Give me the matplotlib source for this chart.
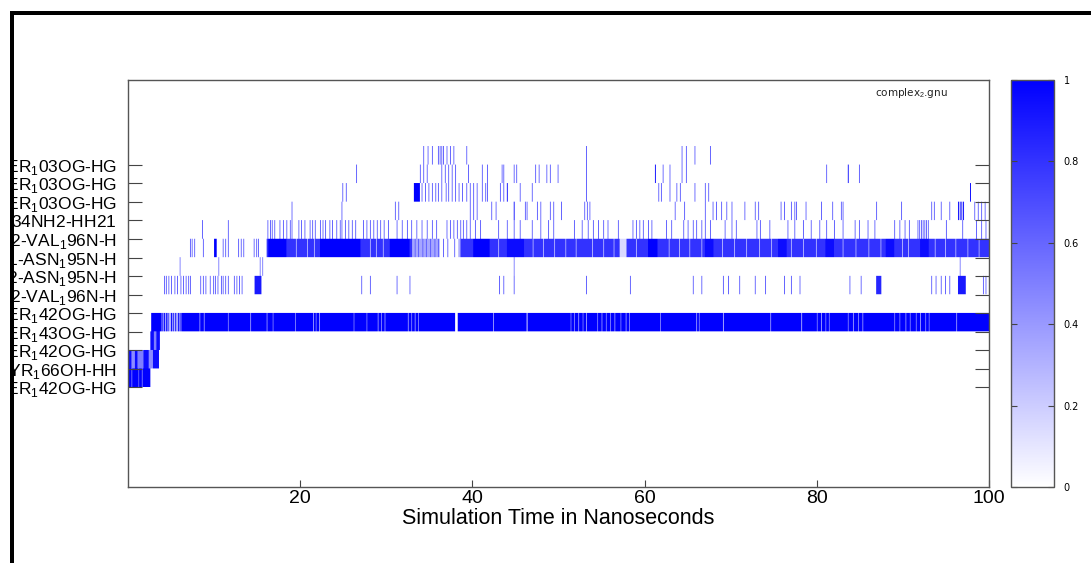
import numpy as np
import matplotlib
matplotlib.use('Agg')
import matplotlib.pyplot as plt
from matplotlib.colors import LinearSegmentedColormap
from matplotlib.patches import Rectangle

# --- hydrogen bond labels (bottom to top) ---
bond_labels = [
    'SER$_1$42OG-HG', 'TYR$_1$66OH-HH', 'SER$_1$42OG-HG', 'SER$_1$43OG-HG',
    'SER$_1$42OG-HG', 'O2-VAL$_1$96N-H', 'O2-ASN$_1$95N-H', 'O1-ASN$_1$95N-H',
    'N2-VAL$_1$96N-H', 'ARG$_1$34NH2-HH21', 'SER$_1$03OG-HG', 'SER$_1$03OG-HG',
    'SER$_1$03OG-HG',
]
x_ticks = [20, 40, 60, 80, 100]
cb_ticks = [0, 0.2, 0.4, 0.6, 0.8, 1]
cb_ticklabels = ['0', '0.2', '0.4', '0.6', '0.8', '1']

t_end = 100.0
dt = 0.1
line_val = 0.65   # typical single-frame occupancy shade
dark_val = 1.0

# --- occupancy per row: blocks (t0, t1, value), lines (t, value) ---
row0_blocks = [(0.0, 2.6, 1.0)]
row0_lines = [(0.4, 0.5), (1.2, 0.6), (1.6, 0.5)]

row1_blocks = [(0.0, 0.45, 0.95), (0.45, 0.8, 0.45), (0.8, 1.15, 0.95), (1.15, 1.75, 0.5),
               (1.75, 2.4, 0.95), (2.4, 2.9, 0.45), (2.9, 3.6, 0.95)]
row1_lines = []

row2_blocks = [(2.6, 3.0, 0.95), (3.0, 3.3, 0.5), (3.3, 3.7, 0.95)]
row2_lines = []

row3_blocks = [(2.7, 3.9, 1.0), (3.9, 6.2, 0.3), (6.2, 100.0, 1.0)]
row3_lines = [(4.0, 1.0), (4.2, 1.0), (4.45, 1.0), (4.65, 1.0), (4.95, 1.0), (5.2, 1.0), (5.5, 1.0),
              (5.8, 1.0), (6.0, 1.0), (8.3, 0.4), (8.8, 0.4), (11.6, 0.5), (14.2, 0.4), (16.1, 0.4),
              (16.8, 0.5), (19.4, 0.5), (21.5, 0.4), (21.8, 0.5), (22.2, 0.4), (26.2, 0.5), (27.7, 0.5),
              (29.0, 0.4), (29.4, 0.5), (29.8, 0.4), (32.5, 0.4), (32.9, 0.5), (33.3, 0.4), (33.7, 0.5),
              (38.0, 0.0), (38.1, 0.0), (38.2, 0.1), (42.4, 0.4), (46.3, 0.0), (51.4, 0.5), (51.8, 0.5),
              (52.3, 0.4), (52.8, 0.5), (53.2, 0.4), (54.5, 0.5), (55.0, 0.4), (55.5, 0.5), (56.0, 0.5),
              (56.5, 0.4), (57.2, 0.5), (57.8, 0.4), (58.2, 0.5), (61.8, 0.5), (66.0, 0.4), (66.3, 0.5),
              (69.1, 0.3), (74.6, 0.4), (78.2, 0.3), (80.0, 0.5), (80.5, 0.4), (81.0, 0.5), (81.4, 0.5),
              (83.6, 0.5), (84.2, 0.4), (84.8, 0.5), (85.3, 0.4), (89.0, 0.5), (89.6, 0.5), (90.3, 0.4),
              (90.8, 0.5), (91.5, 0.5), (92.0, 0.4), (92.6, 0.5), (93.0, 0.5), (96.2, 0.4)]

row4_blocks = []
row4_lines = []

row5_blocks = [(14.7, 15.5, 0.9), (86.9, 87.5, 0.85), (96.4, 97.3, 0.9)]
row5_times = [4.18, 4.45, 4.72, 5.03, 5.42, 5.73, 6.12, 6.39, 6.66, 6.97, 7.24, 8.44, 8.71, 8.98,
              9.49, 9.87, 10.14, 10.45, 10.76, 11.03, 11.34, 11.61, 12.31, 12.58, 12.89, 13.16,
              27.1, 28.1, 31.2, 32.7, 43.1, 43.6, 44.8, 53.2, 58.3, 65.6, 66.6, 69.1, 69.7, 71.0,
              72.8, 74.0, 76.2, 77.0, 78.0, 83.8, 85.1, 93.3, 93.8, 94.4, 94.9, 95.4, 99.3, 99.6]
row5_lines = [(t, line_val) for t in row5_times]

row6_blocks = []
row6_times = [6.0, 10.5, 15.3, 15.6, 44.8, 96.6]
row6_lines = [(t, 0.55) for t in row6_times]

row7_blocks = [(10.0, 10.3, 1.0), (16.1, 100.0, 0.8), (16.3, 18.4, 1.0), (22.3, 27.0, 1.0),
               (30.4, 32.7, 1.0), (33.0, 36.2, 0.35), (36.2, 38.6, 0.0), (40.1, 42.0, 1.0),
               (44.0, 46.0, 0.95), (57.1, 57.9, 0.15), (60.4, 61.5, 1.0), (67.0, 68.0, 0.95),
               (75.5, 76.5, 0.95), (81.0, 82.0, 0.95), (88.0, 89.0, 0.95), (92.0, 93.0, 0.95)]
row7_times = [7.2, 7.4, 7.7, 8.7, 11.0, 11.3, 11.6, 12.8, 13.1, 13.4, 14.6, 14.9, 15.1,
              33.3, 33.7, 34.2, 34.6, 35.1, 35.6, 36.0, 36.6, 37.1, 37.9, 38.4]
row7_gaps = [19.5, 20.8, 21.6, 28.1, 28.8, 29.6, 43.0, 47.0, 48.2, 49.5, 50.8, 52.0, 53.9, 55.2,
             56.4, 59.0, 62.8, 64.0, 65.2, 66.6, 69.0, 70.4, 71.8, 73.3, 74.7, 77.0, 78.4, 79.9,
             83.0, 84.5, 86.0, 87.4, 89.9, 90.6, 93.7, 94.9, 96.1, 97.5, 98.8]
row7_lines = [(t, line_val) for t in row7_times] + [(t, 0.3) for t in row7_gaps]

row8_blocks = []
row8_times = [8.6, 11.6, 16.2, 16.5, 16.7, 17.0, 17.6, 18.0, 18.4, 18.8, 19.0, 19.8, 20.1, 20.5,
              21.1, 21.4, 21.7, 22.3, 22.6, 22.9, 23.4, 23.7, 24.2, 24.6, 24.8, 25.2, 25.6, 26.0,
              26.4, 27.3, 27.7, 28.1, 28.5, 28.9, 29.3, 29.7, 30.2, 31.2, 31.8, 32.4, 32.9, 33.5,
              34.1, 34.7, 35.3, 35.8, 37.0, 37.4, 37.8, 38.2, 38.6, 38.9, 39.3, 39.7, 40.3, 40.9,
              43.0, 44.0, 44.8, 45.5, 46.9, 47.9, 48.8, 49.4, 51.8, 52.7, 53.4, 54.0, 54.6, 55.2,
              55.7, 56.9, 58.65, 59.04, 59.43, 59.81, 60.39, 60.78, 62.52, 63.1, 64.46, 65.04,
              65.62, 66.01, 66.59, 66.97, 67.56, 69.3, 70.07, 70.65, 72.97, 73.36, 74.52, 76.6,
              77.4, 78.4, 79.3, 80.3, 81.1, 82.0, 83.0, 84.4, 84.9, 85.9, 86.7, 89.0, 89.6, 90.2,
              90.7, 91.7, 91.9, 92.1, 92.3, 92.5, 92.7, 92.9, 95.0, 96.9, 98.5, 99.1, 99.6]
row8_lines = [(t, line_val) for t in row8_times]

row9_blocks = []
row9_times = [19.0, 24.8, 31.0, 31.4, 39.7, 40.1, 40.5, 42.2, 42.7, 46.1, 46.3, 47.5, 47.9, 49.0,
              49.4, 50.3, 53.0, 53.3, 53.6, 63.5, 64.65, 66.97, 67.9, 68.3, 68.9, 69.5, 70.1, 71.6,
              72.8, 73.2, 75.8, 76.2, 77.0, 77.4, 77.6, 78.7, 80.5, 81.8, 82.8, 83.0, 86.9, 89.8,
              93.3, 93.6, 94.4, 95.4, 98.3, 98.7, 99.1, 99.5]
row9_dark = [44.8, 96.4, 96.6, 96.8, 97.0]
row9_lines = [(t, line_val) for t in row9_times] + [(t, dark_val) for t in row9_dark]

row10_blocks = [(33.2, 33.9, 1.0)]
row10_times = [24.9, 25.3, 34.1, 34.5, 34.9, 35.3, 35.7, 36.0, 36.4, 36.9, 37.2, 37.6, 38.0, 38.4,
               38.8, 39.3, 39.7, 40.1, 40.5, 41.1, 41.5, 41.7, 43.2, 43.6, 45.5, 46.9, 53.2, 61.6,
               61.9, 62.9, 63.7, 64.1, 65.8, 67.0, 67.4]
row10_dark = [44.0, 97.8]
row10_lines = [(t, line_val) for t in row10_times] + [(t, dark_val) for t in row10_dark]

row11_blocks = []
row11_times = [26.5, 33.9, 34.3, 34.7, 36.4, 36.8, 37.2, 37.6, 38.0, 39.5, 41.1, 41.7, 43.4, 43.6,
               44.8, 45.1, 47.3, 47.7, 48.6, 49.0, 49.9, 53.2, 62.1, 62.9, 64.3, 64.8, 81.1, 84.9]
row11_dark = [61.2, 83.6]
row11_lines = [(t, line_val) for t in row11_times] + [(t, dark_val) for t in row11_dark]

row12_blocks = []
row12_times = [34.3, 34.8, 35.3, 36.0, 36.2, 36.4, 36.6, 37.0, 37.4, 37.8, 39.3, 53.2, 64.3, 64.8,
               65.8, 67.6]
row12_lines = [(t, line_val) for t in row12_times]

all_blocks = [row0_blocks, row1_blocks, row2_blocks, row3_blocks, row4_blocks, row5_blocks,
              row6_blocks, row7_blocks, row8_blocks, row9_blocks, row10_blocks, row11_blocks,
              row12_blocks]
all_lines = [row0_lines, row1_lines, row2_lines, row3_lines, row4_lines, row5_lines, row6_lines,
             row7_lines, row8_lines, row9_lines, row10_lines, row11_lines, row12_lines]

# --- build occupancy matrix ---
n_bins = int(round(t_end / dt))
occ = np.zeros((len(bond_labels), n_bins))
for r in range(len(bond_labels)):
    for t0, t1, v in all_blocks[r]:
        occ[r, int(round(t0 / dt)):int(round(t1 / dt))] = v
    for t, v in all_lines[r]:
        occ[r, min(int(round(t / dt)), n_bins - 1)] = v

# repeat rows so the image is not smeared vertically when resampled
occ_img = np.repeat(occ, 20, axis=0)

cmap = LinearSegmentedColormap.from_list('wb', ['#ffffff', '#0000ff'])

plt.rcParams['mathtext.fontset'] = 'custom'
plt.rcParams['mathtext.rm'] = 'Liberation Sans'

fig = plt.figure(figsize=(10.91, 5.63), dpi=100)
W, H = 1091.0, 563.0
ax = fig.add_axes([128 / W, 1 - 487 / H, (989 - 128) / W, (487 - 80) / H])
im = ax.imshow(occ_img, cmap=cmap, vmin=0, vmax=1, aspect='auto', origin='lower',
               extent=(0, t_end, 0, len(bond_labels)), interpolation='antialiased')
ax.set_xlim(0, 100)
ax.set_ylim(-5.38, 16.58)
ax.set_yticks(range(len(bond_labels)))
ax.set_yticklabels(bond_labels, fontfamily='Liberation Sans', fontsize=12.5)
ax.set_xticks(x_ticks)
ax.set_xticklabels([str(v) for v in x_ticks], fontfamily='Liberation Sans', fontsize=14)
ax.tick_params(axis='y', direction='in', length=10, width=0.8, color='#444444', pad=8,
               left=True, right=True)
ax.tick_params(axis='x', direction='in', length=5, width=0.8, color='#444444', pad=2)
ax.set_xlabel('Simulation Time in Nanoseconds', fontfamily='Liberation Sans',
              fontsize=15.5, labelpad=1)
for s in ax.spines.values():
    s.set_color('#555555')
    s.set_linewidth(1.0)
ax.text(0.91, 0.968, 'complex$_2$.gnu', transform=ax.transAxes, ha='center', va='center',
        fontsize=7.5, color='#222222')

cax = fig.add_axes([1011 / W, 1 - 487 / H, 43 / W, (487 - 80) / H])
cb = fig.colorbar(im, cax=cax)
cb.set_ticks(cb_ticks)
cb.set_ticklabels(cb_ticklabels)
cax.tick_params(direction='in', length=4, width=0.8, color='#444444', labelsize=7, pad=7,
                left=True, right=True)
cb.outline.set_edgecolor('#555555')
cb.outline.set_linewidth(1.0)

# cropped screenshot border
fig.add_artist(Rectangle((0, 0), 10 / W, 1, transform=fig.transFigure, facecolor='white',
                         edgecolor='none', zorder=20))
fig.add_artist(Rectangle((10 / W, 0), 4 / W, 1 - 11 / H, transform=fig.transFigure,
                         facecolor='black', edgecolor='none', zorder=21))
fig.add_artist(Rectangle((10 / W, 1 - 15 / H), 1 - 10 / W, 4 / H, transform=fig.transFigure,
                         facecolor='black', edgecolor='none', zorder=21))

fig.savefig('out.png', dpi=100)
